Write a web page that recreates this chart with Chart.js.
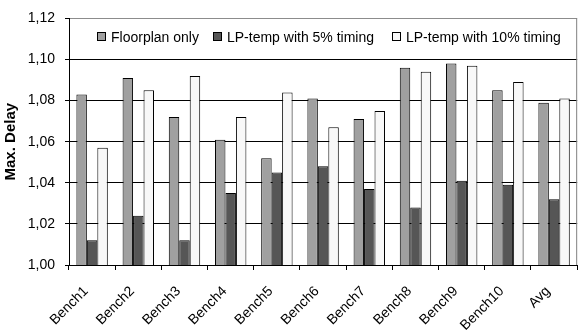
<!DOCTYPE html>
<html>
<head>
<meta charset="utf-8">
<script src="https://cdn.jsdelivr.net/npm/chart.js@4.4.1/dist/chart.umd.min.js"></script>
<style>
  html, body { margin: 0; padding: 0; background: #fff; }
  #wrap { width: 579px; height: 332px; position: relative; }
</style>
</head>
<body>
<div id="wrap"><canvas id="delayChart"></canvas></div>
<script>
// benchmark names and max delay per flow
const benches = ['Bench1', 'Bench2', 'Bench3', 'Bench4', 'Bench5', 'Bench6',
                 'Bench7', 'Bench8', 'Bench9', 'Bench10', 'Avg'];
const floorplanOnly = [1.083, 1.091, 1.072, 1.061, 1.052, 1.081, 1.071, 1.096, 1.098, 1.085, 1.079];
const lpTemp5 = [1.012, 1.024, 1.012, 1.035, 1.045, 1.048, 1.037, 1.028, 1.041, 1.039, 1.032];
const lpTemp10 = [1.057, 1.085, 1.092, 1.072, 1.084, 1.067, 1.075, 1.094, 1.097, 1.089, 1.081];
const seriesNames = ['Floorplan only', 'LP-temp with 5% timing', 'LP-temp with 10% timing'];

const FONT = '"Liberation Sans", Arial, sans-serif';

// legend sits inside the plot, above the bars, plus the thin right frame
const legendInside = {
    id: 'legendInside',
    afterDatasetsDraw(chart) {
        const { ctx, chartArea } = chart;
        const offsets = [28, 144, 323];
        ctx.save();
        ctx.font = '14px ' + FONT;
        ctx.textBaseline = 'middle';
        chart.data.datasets.forEach((ds, i) => {
            const x = Math.round(chartArea.left + offsets[i]);
            const y = Math.round(chartArea.top + 19);
            ctx.fillStyle = ds.backgroundColor;
            ctx.fillRect(x + 0.5, y - 4.5, 8, 8);
            ctx.strokeStyle = '#000';
            ctx.lineWidth = 1;
            ctx.strokeRect(x + 0.5, y - 4.5, 8, 8);
            ctx.fillStyle = '#000';
            ctx.fillText(ds.label, x + 14, y + 1);
        });
        ctx.strokeStyle = '#808080';
        ctx.beginPath();
        ctx.moveTo(chartArea.right - 0.5, chartArea.top);
        ctx.lineTo(chartArea.right - 0.5, chartArea.bottom);
        ctx.stroke();
        ctx.restore();
    }
};

const ctx = document.getElementById('delayChart').getContext('2d');
new Chart(ctx, {
    type: 'bar',
    data: {
        labels: benches,
        datasets: [
            { label: seriesNames[0], data: floorplanOnly, backgroundColor: '#a0a0a0' },
            { label: seriesNames[1], data: lpTemp5, backgroundColor: '#565656' },
            { label: seriesNames[2], data: lpTemp10, backgroundColor: '#f8f8f8' }
        ].map(ds => Object.assign(ds, {
            borderColor: '#000',
            borderWidth: 1,
            borderSkipped: 'bottom',
            categoryPercentage: 0.68,
            barPercentage: 1.0
        }))
    },
    options: {
        responsive: true,
        maintainAspectRatio: false,
        animation: false,
        layout: { padding: { top: 15, right: 1, left: 0, bottom: 0 } },
        plugins: {
            legend: { display: false },
            tooltip: { enabled: false }
        },
        scales: {
            x: {
                grid: {
                    offset: true,
                    drawOnChartArea: false,
                    drawTicks: true,
                    tickLength: 5,
                    color: '#000'
                },
                border: { color: '#000' },
                ticks: {
                    color: '#000',
                    font: { family: FONT, size: 14 },
                    maxRotation: 45,
                    minRotation: 45,
                    padding: 13,
                    labelOffset: -6
                },
                afterFit: function (scale) { scale.height = 67; }
            },
            y: {
                min: 1.0,
                max: 1.12,
                grid: {
                    color: c => (c.tick && c.tick.value >= 1.12 ? '#8c8c8c' : '#000'),
                    tickColor: '#000',
                    tickLength: 4
                },
                border: { color: '#000' },
                ticks: {
                    stepSize: 0.02,
                    color: '#000',
                    padding: 10,
                    font: { family: FONT, size: 14 },
                    callback: v => v.toFixed(2).replace('.', ',')
                },
                title: {
                    display: true,
                    text: 'Max. Delay',
                    color: '#000',
                    font: { family: FONT, size: 15, weight: 'bold' },
                    padding: { top: 2, bottom: 0 }
                },
                afterFit: function (scale) { scale.width = 69; }
            }
        }
    },
    plugins: [legendInside]
});
</script>
</body>
</html>
